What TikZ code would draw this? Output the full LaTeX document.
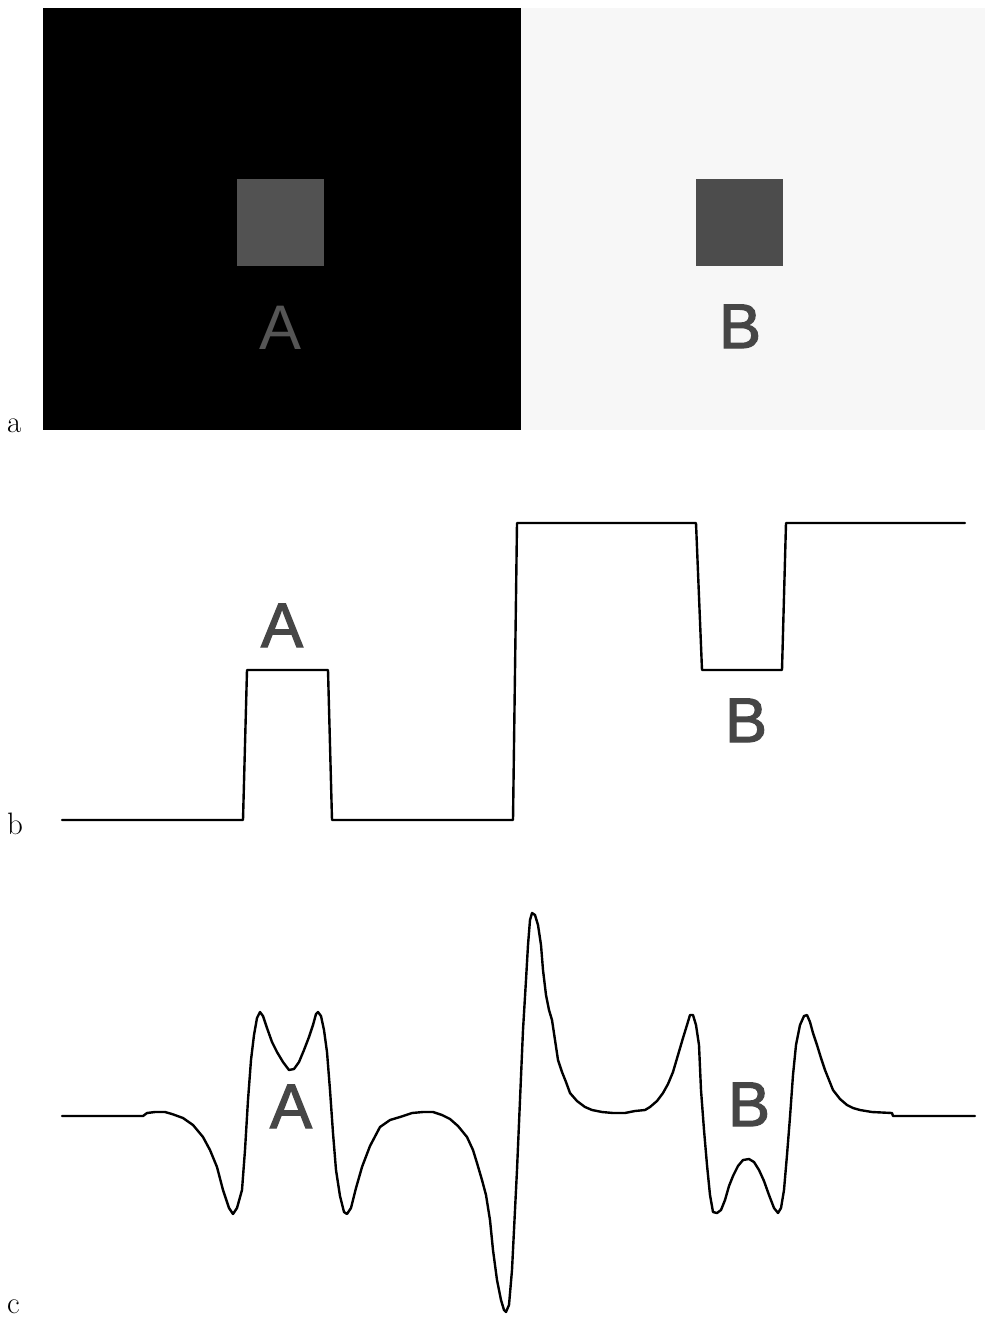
\documentclass[tikz,border=0pt]{standalone}
\usepackage{fontspec}
\newfontfamily\labelsans{Liberation Sans}
\newfontfamily\labelsansmed{Liberation Sans}[FakeBold=2]
\begin{document}
\begin{tikzpicture}[x=1pt,y=-1pt,
  panelletter/.style={anchor=base west,inner sep=0pt,font=\fontsize{31}{33}\selectfont},
  biglabel/.style={inner sep=0pt,text=labelgray,font=\labelsansmed\fontsize{63}{66}\selectfont},
  thinlabel/.style={inner sep=0pt,text=thingray,font=\labelsans\fontsize{63}{66}\selectfont},
  profile/.style={draw=black,line width=2.4pt,line join=round,line cap=round}]
\definecolor{labelgray}{HTML}{464646}
\definecolor{thingray}{HTML}{555555}
\definecolor{patchA}{HTML}{525252}
\definecolor{patchB}{HTML}{4C4C4C}
\definecolor{lightbg}{HTML}{F7F7F7}
\useasboundingbox[fill=white] (0,0) rectangle (985,1318);

% panel a: two backgrounds with a grey patch each
\fill[black] (43,8) rectangle (521,430);
\fill[lightbg] (521,8) rectangle (985,430);
\fill[patchA] (237,179) rectangle (324,266);
\fill[patchB] (696,179) rectangle (783,266);
\node[thinlabel,anchor=base] (aA) at (281,349) {A};
\node[biglabel,anchor=base] (aB) at (740,348) {B};

% panel b: luminance profile
\draw[profile] (62,820) -- (243,820) -- (247,670) -- (328,670) -- (332,820)
  -- (513,820) -- (517,523) -- (696,523) -- (702,670) -- (782,670)
  -- (786,523) -- (965,523);
\node[biglabel,anchor=base] (bA) at (282,647) {A};
\node[biglabel,anchor=base] (bB) at (746,742) {B};

% panel c: filtered response
\draw[profile] plot coordinates {
(62,1116) (143,1116) (147,1113) (155,1112) (165,1112) (172,1114) (183,1118)
(193,1125) (203,1137) (210,1150) (217,1167) (223,1190) (229,1208) (233,1214)
(237,1208) (242,1190) (245,1150) (248,1100) (251,1060) (254,1035) (257,1018)
(260,1012) (263,1016) (267,1028) (272,1042) (277,1052) (283,1062) (289,1070)
(294,1069) (299,1062) (304,1050) (309,1037) (313,1025) (316,1014) (318,1012)
(321,1016) (324,1030) (327,1052) (330,1090) (333,1133) (336,1170) (340,1196)
(344,1212) (347,1214) (351,1208) (356,1188) (362,1167) (370,1146) (380,1127)
(390,1120) (400,1117) (412,1113) (423,1112) (433,1112) (442,1115) (450,1119)
(458,1126) (467,1137) (473,1150) (477,1163) (482,1180) (486,1195) (490,1220)
(493,1250) (497,1280) (501,1300) (504,1310) (506,1312) (509,1305) (512,1270)
(514,1230) (517,1170) (520,1100) (523,1030) (526,980) (528,945) (530,920)
(532,913) (535,915) (538,925) (541,945) (543,970) (546,995) (549,1010)
(552,1020) (555,1040) (558,1060) (562,1072) (566,1082) (570,1093) (577,1101)
(585,1107) (592,1110) (602,1112) (613,1113) (625,1113) (635,1111) (645,1110)
(650,1107) (657,1101) (663,1093) (668,1084) (673,1072) (678,1055) (683,1038)
(687,1025) (690,1015) (693,1015) (696,1025) (699,1045) (701,1090) (704,1130)
(707,1165) (710,1195) (713,1212) (717,1213) (721,1210) (725,1200) (729,1186)
(733,1176) (738,1166) (743,1160) (749,1159) (754,1162) (759,1170) (764,1181)
(769,1195) (774,1208) (778,1213) (781,1208) (784,1190) (787,1155) (790,1117)
(793,1075) (796,1045) (800,1025) (804,1016) (807,1015) (810,1022) (813,1033)
(817,1045) (821,1058) (825,1070) (829,1080) (833,1090) (840,1099) (847,1105)
(853,1108) (860,1110) (872,1112) (892,1113) (893,1116) (975,1116)};
\node[biglabel,anchor=base] (cA) at (291,1128) {A};
\node[biglabel,anchor=base] (cB) at (749,1126) {B};

% panel letters
\node[panelletter] (la) at (7,432) {a};
\node[panelletter] (lb) at (7,834) {b};
\node[panelletter] (lc) at (7,1313) {c};
\end{tikzpicture}
\end{document}
